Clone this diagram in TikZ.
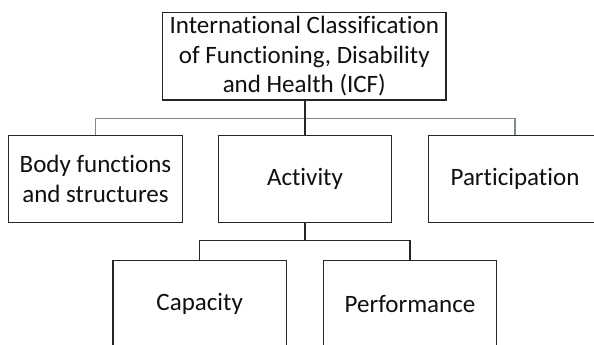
\documentclass[tikz,border=0pt]{standalone}
\usepackage{fontspec}
\setmainfont{Carlito}[Ligatures=NoCommon]
\definecolor{boxline}{HTML}{262626}
\definecolor{linkgray}{HTML}{7F8A86}
\definecolor{ink}{HTML}{101010}
\begin{document}
\begin{tikzpicture}[x=1pt,y=-1pt,
  box/.style={draw=boxline, line width=1.3pt, minimum width=173.4pt,
    minimum height=87pt, inner sep=0pt, align=center, text=ink,
    font=\fontsize{25}{29.7}\selectfont},
  link/.style={draw=boxline, line width=1.3pt},
  graylink/.style={draw=linkgray, line width=1.3pt}]
\useasboundingbox (0,0) rectangle (594,345);
\clip (0,0) rectangle (594,345);
\fill[white] (0,0) rectangle (594,345);

% root and first level
\node[box, minimum width=283.3pt, minimum height=87.3pt] (icf) at (304.3,56.3)
  {International Classification\\of Functioning, Disability\\and Health (ICF)};
\node[box] (body) at (95.5,179) {Body functions\\and structures};
\node[box] (act)  at (305,179)  {Activity};
\node[box] (part) at (515,179)  {Participation};

% second level under Activity
\node[box] (cap)  at (199.7,304) {Capacity};
\node[box] (perf) at (410,304)   {Performance};

% connectors
\coordinate (topbus) at (305,118.3);
\coordinate (lowbus) at (305,240.7);
\draw[graylink] (body.north) |- (topbus) -| (part.north);
\draw[link] (act.north |- icf.south) -- (act.north);
\draw[link] (act.south) -- (lowbus);
\draw[link] (cap.north) |- (lowbus) -| (perf.north);
\end{tikzpicture}
\end{document}
